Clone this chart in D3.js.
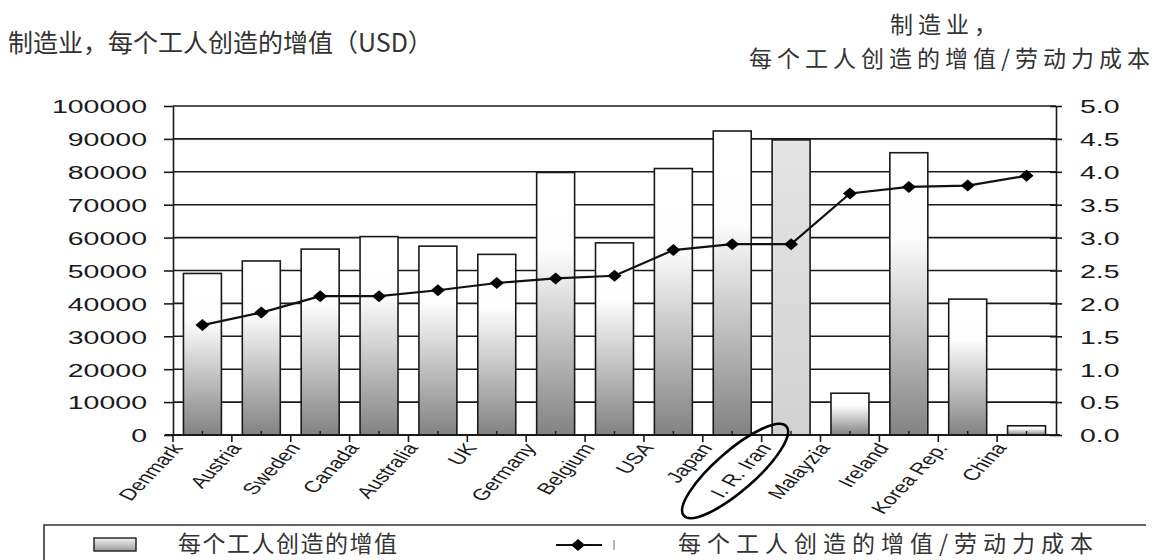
<!DOCTYPE html>
<html>
<head>
<meta charset="utf-8">
<script src="https://cdn.jsdelivr.net/npm/d3@7"></script>
<style>
    body { margin: 0; background: #fff; }
    svg text { font-family: "Liberation Sans", Arial, sans-serif; fill: #1a1a1a; }
    svg text.cjk { font-family: "Noto Sans CJK SC", sans-serif; fill: #333; }
</style>
</head>
<body>
<svg id="chart" width="1168" height="560"></svg>
<script>
// Chart data
const countries = ["Denmark", "Austria", "Sweden", "Canada", "Australia", "UK", "Germany",
    "Belgium", "USA", "Japan", "I. R. Iran", "Malayzia", "Ireland", "Korea Rep.", "China"];
const valuePerWorker = [49100, 52900, 56500, 60300, 57400, 54900, 79800,
    58400, 81000, 92400, 89700, 12700, 85800, 41300, 2800];
const valueToLaborCost = [1.67, 1.86, 2.11, 2.11, 2.20, 2.31, 2.38,
    2.42, 2.81, 2.90, 2.90, 3.67, 3.77, 3.79, 3.94];
const leftTicks = [0, 10000, 20000, 30000, 40000, 50000, 60000, 70000, 80000, 90000, 100000];
const rightTicks = [0, 0.5, 1, 1.5, 2, 2.5, 3, 3.5, 4, 4.5, 5];
const highlighted = "I. R. Iran";

const leftTitle = "制造业，每个工人创造的增值（USD）";
const rightTitle = ["制造业，", "每个工人创造的增值/劳动力成本"];
const legendBar = "每个工人创造的增值";
const legendLine = "每个工人创造的增值/劳动力成本";

// Plot box
const plotLeft = 173, plotRight = 1056, plotTop = 106, plotBottom = 435;

const svg = d3.select("#chart");

const x = d3.scaleBand()
    .domain(countries)
    .range([plotLeft, plotRight])
    .paddingInner(0.355)
    .paddingOuter(0.1775);
const step = x.step();
const cx = d => x(d) + x.bandwidth() / 2;

const y = d3.scaleLinear().domain([0, 100000]).range([plotBottom, plotTop]);
const y2 = d3.scaleLinear().domain([0, 5]).range([plotBottom, plotTop]);

// Gradients
const defs = svg.append("defs");
const grad = defs.append("linearGradient")
    .attr("id", "barGrad").attr("x1", 0).attr("y1", 0).attr("x2", 0).attr("y2", 1);
grad.append("stop").attr("offset", 0).attr("stop-color", "#ffffff");
grad.append("stop").attr("offset", 0.3).attr("stop-color", "#fdfdfd");
grad.append("stop").attr("offset", 1).attr("stop-color", "#828282");

const iranGrad = defs.append("linearGradient")
    .attr("id", "iranGrad").attr("x1", 0).attr("y1", 0).attr("x2", 0).attr("y2", 1);
iranGrad.append("stop").attr("offset", 0).attr("stop-color", "#e4e4e4");
iranGrad.append("stop").attr("offset", 1).attr("stop-color", "#d2d2d2");

const legGrad = defs.append("linearGradient")
    .attr("id", "legGrad").attr("x1", 0).attr("y1", 0).attr("x2", 0).attr("y2", 1);
legGrad.append("stop").attr("offset", 0).attr("stop-color", "#f4f4f4");
legGrad.append("stop").attr("offset", 1).attr("stop-color", "#9a9a9a");

// Gridlines + left axis
const leftAxis = svg.append("g")
    .attr("transform", `translate(${plotLeft},0)`)
    .call(d3.axisLeft(y).tickValues(leftTicks).tickSize(9).tickSizeOuter(0).tickFormat(d3.format("d")));
leftAxis.select(".domain").attr("stroke", "#1a1a1a").attr("stroke-width", 1.6);
leftAxis.selectAll(".tick line").attr("stroke", "#1a1a1a").attr("stroke-width", 1.6);
leftAxis.selectAll(".tick text")
    .attr("x", 0).attr("dy", "0.36em")
    .attr("transform", "translate(-26,0) scale(1.5,1)")
    .style("font-size", "19px");

svg.append("g")
    .selectAll("line")
    .data(leftTicks.filter(d => d > 0))
    .join("line")
    .attr("x1", plotLeft).attr("x2", plotRight)
    .attr("y1", d => y(d)).attr("y2", d => y(d))
    .attr("stroke", "#1a1a1a").attr("stroke-width", 1.6);

// Right axis
const rightAxis = svg.append("g")
    .attr("transform", `translate(${plotRight},0)`)
    .call(d3.axisRight(y2).tickValues(rightTicks).tickSize(6).tickSizeOuter(0).tickFormat(d3.format(".1f")));
rightAxis.select(".domain").attr("stroke", "#1a1a1a").attr("stroke-width", 1.6);
rightAxis.selectAll(".tick line").attr("x1", -6).attr("stroke", "#1a1a1a").attr("stroke-width", 1.6);
rightAxis.selectAll(".tick text")
    .attr("x", 0).attr("dy", "0.36em")
    .attr("transform", "translate(24,0) scale(1.5,1)")
    .style("font-size", "19px");

// Bars
svg.append("g")
    .selectAll("rect")
    .data(countries)
    .join("rect")
    .attr("x", d => x(d))
    .attr("width", x.bandwidth())
    .attr("y", (d, i) => y(valuePerWorker[i]))
    .attr("height", (d, i) => plotBottom - y(valuePerWorker[i]))
    .attr("fill", d => d === highlighted ? "url(#iranGrad)" : "url(#barGrad)")
    .attr("stroke", "#1a1a1a")
    .attr("stroke-width", 1.6);

// X axis line, boundary ticks, small center ticks
const xAxis = svg.append("g");
xAxis.append("line")
    .attr("x1", plotLeft - 8).attr("x2", plotRight + 4)
    .attr("y1", plotBottom).attr("y2", plotBottom)
    .attr("stroke", "#1a1a1a").attr("stroke-width", 1.8);
xAxis.selectAll("line.bound")
    .data(countries)
    .join("line")
    .attr("class", "bound")
    .attr("x1", d => x(d) - step * x.paddingInner() / 2)
    .attr("x2", d => x(d) - step * x.paddingInner() / 2)
    .attr("y1", plotBottom).attr("y2", plotBottom + 7)
    .attr("stroke", "#1a1a1a").attr("stroke-width", 1.6);
xAxis.selectAll("line.mid")
    .data(countries)
    .join("line")
    .attr("class", "mid")
    .attr("x1", cx).attr("x2", cx)
    .attr("y1", plotBottom).attr("y2", plotBottom - 4)
    .attr("stroke", "#1a1a1a").attr("stroke-width", 1.4);

// Category labels (stretched, rotated)
xAxis.selectAll("text")
    .data(countries)
    .join("text")
    .attr("text-anchor", "end")
    .attr("transform", d => `translate(${cx(d) - 19},${plotBottom + 13}) scale(1.45,1) rotate(-56)`)
    .style("font-size", "16px")
    .text(d => d);

// Ratio line
const line = d3.line()
    .x((d, i) => cx(countries[i]))
    .y(d => y2(d));
svg.append("path")
    .datum(valueToLaborCost)
    .attr("d", line)
    .attr("fill", "none")
    .attr("stroke", "#111")
    .attr("stroke-width", 2.2);

const diamond = "M0,-6L7,0L0,6L-7,0Z";
svg.append("g")
    .selectAll("path")
    .data(valueToLaborCost)
    .join("path")
    .attr("d", diamond)
    .attr("transform", (d, i) => `translate(${cx(countries[i])},${y2(d)})`)
    .attr("fill", "#000");

// Ellipse round the highlighted label
svg.append("ellipse")
    .attr("transform", `translate(${cx(highlighted) - 56},471) rotate(-41)`)
    .attr("rx", 68).attr("ry", 20)
    .attr("fill", "none")
    .attr("stroke", "#000")
    .attr("stroke-width", 2.6);

// Titles
svg.append("text")
    .attr("class", "cjk")
    .attr("x", 8).attr("y", 52)
    .style("font-size", "25px")
    .text(leftTitle);

svg.append("g")
    .selectAll("text")
    .data(rightTitle)
    .join("text")
    .attr("class", "cjk")
    .attr("x", (d, i) => i === 0 ? 946 : 952)
    .attr("y", (d, i) => i === 0 ? 33 : 67)
    .attr("text-anchor", "middle")
    .style("font-size", "23px")
    .style("letter-spacing", "5px")
    .text(d => d);

// Legend
const legend = svg.append("g");
legend.append("path")
    .attr("d", "M44,560V525H1146")
    .attr("fill", "none")
    .attr("stroke", "#333")
    .attr("stroke-width", 1.6);
legend.append("rect")
    .attr("x", 94).attr("y", 538).attr("width", 42).attr("height", 13)
    .attr("fill", "url(#legGrad)")
    .attr("stroke", "#1a1a1a").attr("stroke-width", 1.4);
legend.append("text")
    .attr("class", "cjk")
    .attr("x", 178).attr("y", 552)
    .style("font-size", "23px")
    .style("letter-spacing", "1.5px")
    .text(legendBar);
legend.append("line")
    .attr("x1", 556).attr("x2", 602)
    .attr("y1", 545).attr("y2", 545)
    .attr("stroke", "#111").attr("stroke-width", 2.2);
legend.append("path")
    .attr("d", diamond)
    .attr("transform", "translate(578,545)")
    .attr("fill", "#000");
legend.append("line")
    .attr("x1", 614).attr("x2", 614)
    .attr("y1", 540).attr("y2", 550)
    .attr("stroke", "#888").attr("stroke-width", 1.2);
legend.append("text")
    .attr("class", "cjk")
    .attr("x", 678).attr("y", 552)
    .style("font-size", "23px")
    .style("letter-spacing", "6px")
    .text(legendLine);
</script>
</body>
</html>
